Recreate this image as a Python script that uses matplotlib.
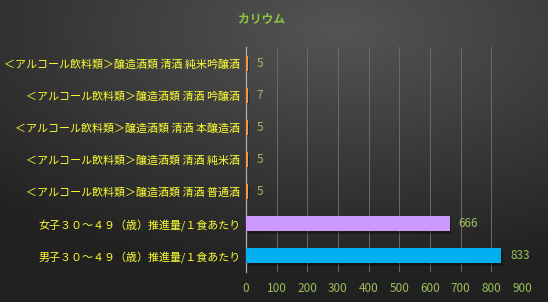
import matplotlib.pyplot as plt
import numpy as np

plt.rcParams['font.family'] = ['Noto Sans CJK JP', 'DejaVu Sans']

# data (top to bottom)
labels = [
    '＜アルコール飲料類＞醸造酒類 清酒 純米吟醸酒',
    '＜アルコール飲料類＞醸造酒類 清酒 吟醸酒',
    '＜アルコール飲料類＞醸造酒類 清酒 本醸造酒',
    '＜アルコール飲料類＞醸造酒類 清酒 純米酒',
    '＜アルコール飲料類＞醸造酒類 清酒 普通酒',
    '女子３０～４９（歳）推進量/１食あたり',
    '男子３０～４９（歳）推進量/１食あたり',
]
values = [5, 7, 5, 5, 5, 666, 833]
colors = ['#f79646'] * 5 + ['#cc99ff', '#00b0f0']
xticks = [0, 100, 200, 300, 400, 500, 600, 700, 800, 900]

green = '#9bc05a'
yellow = '#ffff33'

fig = plt.figure(figsize=(5.48, 3.02), dpi=100)

# dark radial-ish background
bg = fig.add_axes([0, 0, 1, 1], zorder=-1)
yy, xx = np.mgrid[0:1:302j, 0:1:548j]
d = np.sqrt(((xx - 0.62) / 1.0) ** 2 + ((yy - 0.1) / 0.9) ** 2)
shade = np.clip(0.33 - 0.22 * d, 0.13, 0.33)
bg.imshow(np.dstack([shade] * 3), aspect='auto', extent=[0, 1, 0, 1])
bg.axis('off')

ax = fig.add_axes([0.449, 0.0993, 0.5035, 0.745])
ax.patch.set_alpha(0)
y = np.arange(len(labels))
bars = ax.barh(y, values, height=0.47, color=colors, zorder=3)
# soft shadow
ax.barh(y + 0.07, values, height=0.47, left=4, color='black', alpha=0.35, zorder=2)

for yi, v in zip(y, values):
    ax.text(v + 28, yi, str(v), color=green, va='center', ha='left', fontsize=8.5)

ax.set_xlim(0, 900)
ax.set_ylim(len(labels) - 0.5, -0.5)
ax.set_xticks(xticks)
ax.set_yticks(y)
ax.set_yticklabels(labels, color=yellow, fontsize=7.9)
ax.tick_params(axis='x', colors=green, labelsize=8.5, length=0, pad=7)
ax.tick_params(axis='y', length=0, pad=4)
ax.grid(axis='x', color='#6a6a6a', linewidth=0.7, zorder=0)
for s in ['top', 'right', 'bottom']:
    ax.spines[s].set_visible(False)
ax.spines['left'].set_color('#b0b0b0')
ax.spines['left'].set_linewidth(0.9)

fig.text(0.477, 0.937, 'カリウム', color='#8cc640', fontsize=8.5, ha='center', va='center', fontweight='bold')

fig.savefig('out.png', dpi=100)
